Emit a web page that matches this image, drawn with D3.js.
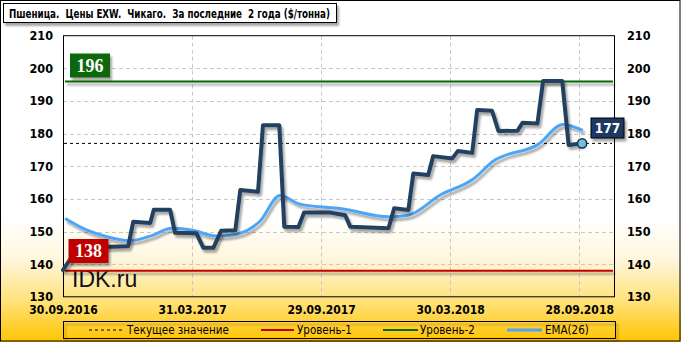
<!DOCTYPE html>
<html><head><meta charset="utf-8">
<script src="https://cdn.jsdelivr.net/npm/d3@7"></script>
<style>
html,body{margin:0;padding:0;background:#fff;}
svg{display:block;}
text{font-family:"DejaVu Sans Condensed","DejaVu Sans",sans-serif;}
</style></head>
<body>
<svg id="chart" width="681" height="342"></svg>
<script>
const title = "Пшеница.  Цены EXW.  Чикаго.  За последние  2 года ($/тонна)";
const priceDates = ["2016-09-30","2016-10-10","2016-10-21","2016-12-31","2017-01-07","2017-01-31","2017-02-05","2017-02-28","2017-03-07","2017-04-06","2017-04-16","2017-04-30","2017-05-11","2017-05-31","2017-06-07","2017-07-02","2017-07-09","2017-08-01","2017-08-08","2017-08-28","2017-09-05","2017-10-12","2017-11-02","2017-11-09","2018-01-02","2018-01-10","2018-01-30","2018-02-06","2018-02-27","2018-03-06","2018-04-02","2018-04-10","2018-04-30","2018-05-07","2018-05-28","2018-06-06","2018-07-03","2018-07-10","2018-07-31","2018-08-08","2018-09-04","2018-09-13","2018-10-02"];
const priceValues = [138.2,141.5,145.0,145.5,153.0,152.6,156.7,156.7,149.6,149.5,145.0,145.0,150.2,150.4,162.7,162.2,182.6,182.6,151.5,151.4,155.8,155.8,155.0,151.5,151.0,157.1,156.6,167.8,167.3,173.1,172.4,174.7,174.1,187.2,187.0,180.8,180.9,183.3,183.1,196.1,196.1,176.5,177.0];
const emaDates = ["2016-10-03","2016-11-03","2016-12-01","2017-01-03","2017-01-31","2017-03-03","2017-04-01","2017-05-04","2017-05-31","2017-07-04","2017-08-02","2017-08-30","2017-10-30","2018-01-02","2018-01-30","2018-03-16","2018-05-01","2018-05-30","2018-08-01","2018-09-05","2018-10-03"];
const emaValues = [154.0,150.4,148.4,147.2,148.6,151.0,150.4,148.6,149.1,153.0,161.0,158.4,156.9,154.5,155.0,161.2,166.0,171.6,176.7,182.8,181.0];
const xTickDates = ["2016-09-30","2017-03-31","2017-09-29","2018-03-30","2018-09-28"];
const xTickLabels = ["30.09.2016","31.03.2017","29.09.2017","30.03.2018","28.09.2018"];
const yTicks = [130,140,150,160,170,180,190,200,210];
const currentValue = 177;
const level1 = 138;
const level2 = 196;
const legendLabels = ["Текущее значение","Уровень-1","Уровень-2","EMA(26)"];
const watermark = "IDK.ru";

const parse = d3.utcParse("%Y-%m-%d");
const svg = d3.select("#chart");
const W = 681, H = 342;
const L = 63, R = 614, T = 35.7, B = 296.8;

const defs = svg.append("defs");
const bg = defs.append("linearGradient").attr("id","bg").attr("x1",0).attr("y1",0).attr("x2",0).attr("y2",1);
[[0,"#ffffff"],[0.64,"#ffffff"],[0.76,"#fff6dc"],[0.88,"#ffe27a"],[1,"#ffc400"]].forEach(s=>bg.append("stop").attr("offset",s[0]).attr("stop-color",s[1]));
const sh = defs.append("filter").attr("id","sh").attr("filterUnits","userSpaceOnUse").attr("x",0).attr("y",0).attr("width",W).attr("height",H);
sh.append("feGaussianBlur").attr("in","SourceAlpha").attr("stdDeviation",1.2).attr("result","b");
sh.append("feOffset").attr("in","b").attr("dx",2).attr("dy",2.5).attr("result","o");
sh.append("feComponentTransfer").attr("in","o").attr("result","o2").append("feFuncA").attr("type","linear").attr("slope",0.35);
const m = sh.append("feMerge"); m.append("feMergeNode").attr("in","o2"); m.append("feMergeNode").attr("in","SourceGraphic");

svg.append("rect").attr("x",0).attr("y",0).attr("width",W).attr("height",H).attr("fill","url(#bg)");
svg.append("rect").attr("x",0.5).attr("y",0.5).attr("width",W-1.5).attr("height",H-1.5).attr("fill","none").attr("stroke","#000").attr("stroke-width",1);

// title
svg.append("rect").attr("x",3.5).attr("y",3.5).attr("width",333).attr("height",19).attr("fill","#fff").attr("stroke","#000").attr("filter","url(#sh)");
svg.append("text").attr("x",9).attr("y",17.5).attr("font-size",12).attr("font-weight","bold").attr("fill","#000")
  .attr("textLength",321).attr("lengthAdjust","spacingAndGlyphs").style("white-space","pre").text(title);

const x = d3.scaleUtc().domain([parse("2016-09-30"), parse("2018-11-16")]).range([L,R]);
const y = d3.scaleLinear().domain([130,210]).range([B,T]);

// grid
const grid = svg.append("g");
grid.selectAll(".hg").data(yTicks.filter(v=>v>130 && v<210)).join("line")
  .attr("x1",L).attr("x2",R).attr("y1",d=>Math.round(y(d))+0.5).attr("y2",d=>Math.round(y(d))+0.5)
  .attr("stroke","#c8c8c8").attr("stroke-dasharray","4,3");
grid.selectAll(".vg").data(xTickDates.slice(1)).join("line")
  .attr("x1",d=>Math.round(x(parse(d)))+0.5).attr("x2",d=>Math.round(x(parse(d)))+0.5).attr("y1",T).attr("y2",B)
  .attr("stroke","#c8c8c8").attr("stroke-dasharray","4,3");

// axes
const yl = svg.append("g").attr("transform",`translate(${L-10},0)`).call(d3.axisLeft(y).tickValues(yTicks).tickSize(0).tickPadding(0));
const yr = svg.append("g").attr("transform",`translate(${R+13},0)`).call(d3.axisRight(y).tickValues(yTicks).tickSize(0).tickPadding(0));
const xa = svg.append("g").attr("transform",`translate(0,${B+7})`).call(d3.axisBottom(x).tickValues(xTickDates.map(parse)).tickFormat((d,i)=>xTickLabels[i]).tickSize(0).tickPadding(0));
[yl,yr,xa].forEach(g=>{g.select(".domain").remove(); g.selectAll("text").attr("font-size",12.5).attr("font-weight","bold").attr("fill","#000").style("font-family","'DejaVu Sans Condensed','DejaVu Sans',sans-serif");});
xa.selectAll("text").attr("dy","0.85em").attr("font-size",12);

// watermark
svg.append("text").attr("x",72).attr("y",287).attr("font-size",23).attr("fill","#111").style("font-family","'Liberation Sans',Arial,sans-serif").text(watermark);

// levels
svg.append("line").attr("x1",L+2).attr("x2",R-1).attr("y1",y(level2)).attr("y2",y(level2)).attr("stroke","#0a680a").attr("stroke-width",2).attr("filter","url(#sh)");
svg.append("line").attr("x1",L+2).attr("x2",R-1).attr("y1",y(level1)).attr("y2",y(level1)).attr("stroke","#c00000").attr("stroke-width",2).attr("filter","url(#sh)");
svg.append("line").attr("x1",L+1).attr("x2",R-2).attr("y1",y(currentValue)).attr("y2",y(currentValue)).attr("stroke","#000").attr("stroke-width",1).attr("stroke-dasharray","3,3");

// plot border
svg.append("rect").attr("x",L+0.5).attr("y",T).attr("width",R-L).attr("height",B-T).attr("fill","none").attr("stroke","#000");

// EMA
const price = priceDates.map((d,i)=>({d:parse(d),v:priceValues[i]}));
const ema = emaDates.map((d,i)=>({d:parse(d),v:emaValues[i]}));
svg.append("path").datum(ema).attr("d",d3.line().x(d=>x(d.d)).y(d=>y(d.v)).curve(d3.curveMonotoneX)).attr("fill","none").attr("stroke","#4da6f5").attr("stroke-width",3).attr("filter","url(#sh)");
svg.append("path").datum(price).attr("d",d3.line().x(d=>x(d.d)).y(d=>y(d.v)).curve(d3.curveLinear)).attr("fill","none").attr("stroke","#243f60").attr("stroke-width",4).attr("stroke-linejoin","round").attr("stroke-linecap","round").attr("filter","url(#sh)");

const last = price[price.length-1];
svg.append("circle").attr("cx",x(last.d)).attr("cy",y(last.v)).attr("r",4.6).attr("fill","#74bfd8").attr("stroke","#1a3558").attr("stroke-width",1.6);

// value boxes
function box(cx, cy, w, h, fill, txt, serif, fs, stroke){
  svg.append("rect").attr("x",cx-w/2).attr("y",cy-h/2).attr("width",w).attr("height",h).attr("fill",fill).attr("stroke",stroke||"none").attr("filter","url(#sh)");
  svg.append("text").attr("x",cx).attr("y",cy).attr("dy","0.36em").attr("text-anchor","middle").attr("font-size",fs).attr("font-weight","bold").attr("fill","#fff")
    .style("font-family", serif ? "'Liberation Serif','Times New Roman',serif" : "'DejaVu Sans Condensed','DejaVu Sans',sans-serif").text(txt);
}
box(90, 65.5, 40, 24, "#0a680a", String(level2), true, 18);
box(88.5, 251, 40, 24, "#c00000", String(level1), true, 18);
box(607.5, 128, 33, 20, "#1f3864", String(currentValue), false, 13.5, "#000");

// legend
const lg = svg.append("g");
lg.append("rect").attr("x",63.5).attr("y",321.5).attr("width",552).attr("height",17).attr("fill","#ffd21e").attr("fill-opacity",0.01).attr("stroke","#000").attr("filter","url(#sh)");
const items = [
  {x1:89,x2:122,stroke:"#000",w:1,dash:"3,3",tx:127},
  {x1:261,x2:294,stroke:"#c00000",w:2,dash:null,tx:297},
  {x1:383,x2:418,stroke:"#0a680a",w:2,dash:null,tx:420},
  {x1:507,x2:542,stroke:"#4da6f5",w:3,dash:null,tx:545}
];
items.forEach((it,i)=>{
  lg.append("line").attr("x1",it.x1).attr("x2",it.x2).attr("y1",330).attr("y2",330).attr("stroke",it.stroke).attr("stroke-width",it.w).attr("stroke-dasharray",it.dash);
  lg.append("text").attr("x",it.tx).attr("y",330).attr("dy","0.36em").attr("font-size",11.5).attr("fill","#000").text(legendLabels[i]);
});
</script>
</body></html>
